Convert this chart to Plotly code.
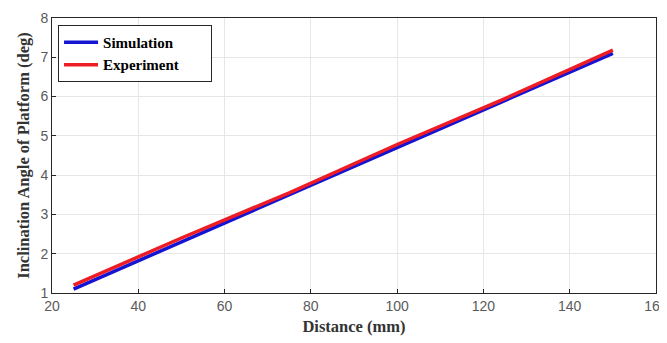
import plotly.graph_objects as go

distance = [25, 50, 75, 100, 125, 150]
simulation = [1.10, 2.30, 3.50, 4.70, 5.90, 7.10]
experiment = [1.20, 2.40, 3.55, 4.78, 5.95, 7.18]

x_ticks = [20, 40, 60, 80, 100, 120, 140, 160]
y_ticks = [1, 2, 3, 4, 5, 6, 7, 8]

pad = "&nbsp;" * 7
fig = go.Figure()
fig.add_trace(go.Scatter(x=distance, y=simulation, mode="lines", name="<b>Simulation</b>" + pad,
                         line=dict(color="#1414d2", width=3.5)))
fig.add_trace(go.Scatter(x=distance, y=experiment, mode="lines", name="<b>Experiment</b>" + pad,
                         line=dict(color="#ee1c25", width=3.5)))

axis_common = dict(showgrid=True, gridcolor="#e6e6e6", gridwidth=1,
                   showline=True, linecolor="#262626", linewidth=1, mirror=True,
                   ticks="inside", ticklen=4, tickcolor="#262626", zeroline=False,
                   automargin=False, ticklabeloverflow="allow",
                   tickfont=dict(family="Liberation Sans, Arial", size=14, color="#5a5a5a"))

title_font = dict(family="Liberation Serif, Times New Roman", size=16.5, color="#333333")

# page body adds an 8px offset, so the figure is sized to fit the 667x343 window
fig.update_layout(
    width=659, height=335,
    margin=dict(l=44, r=11, t=10, b=50),
    paper_bgcolor="white", plot_bgcolor="white",
    showlegend=True,
    legend=dict(x=0.01, y=0.975, xanchor="left", yanchor="top",
                bgcolor="white", bordercolor="#262626", borderwidth=1,
                font=dict(family="Liberation Serif, Times New Roman", size=15, color="black"),
                itemwidth=34, tracegroupgap=0),
    xaxis=dict(range=[20, 160], tickvals=x_ticks,
               title=dict(text="<b>Distance (mm)</b>", standoff=7, font=title_font),
               **axis_common),
    yaxis=dict(range=[1, 8], tickvals=y_ticks,
               title=dict(text="<b>Inclination Angle of Platform (deg)</b>", standoff=6, font=title_font),
               **axis_common),
)

fig.write_html("out.html")
